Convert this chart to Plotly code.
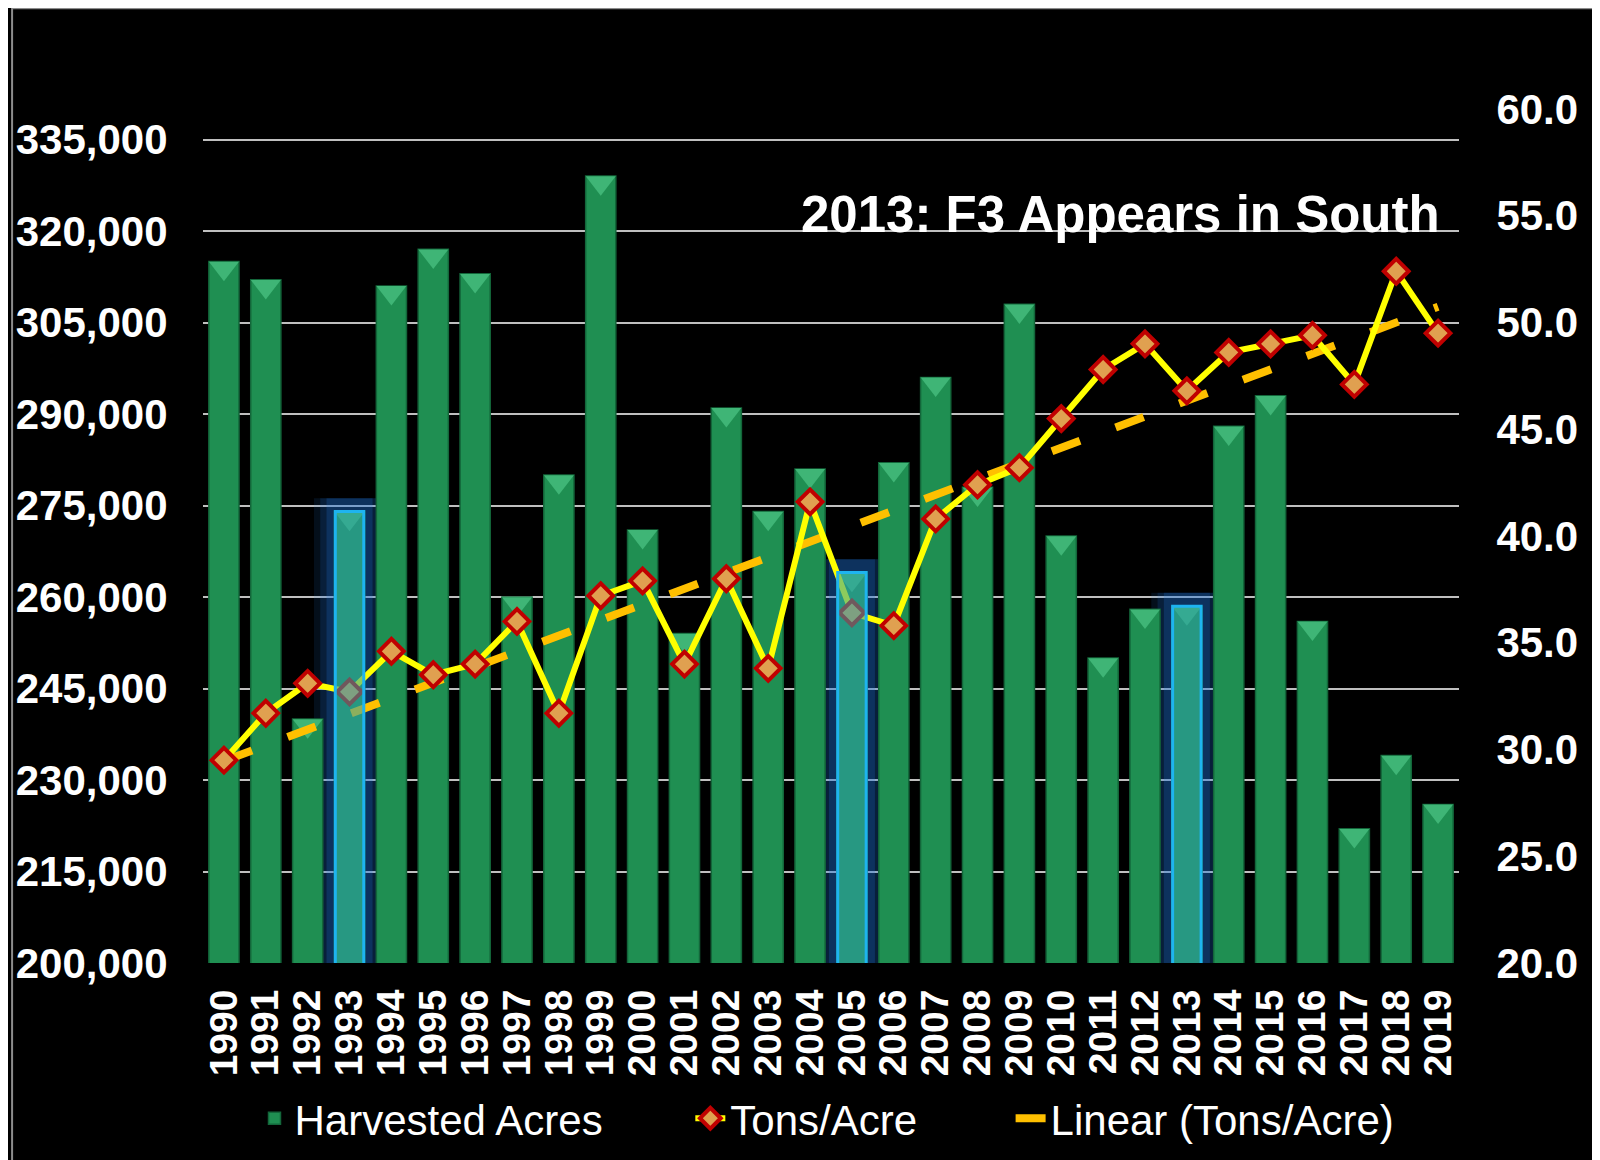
import numpy as np
import plotly.graph_objects as go

# data
years = [str(y) for y in range(1990, 2020)]
harvested_acres = [315000, 312000, 240000, 274000, 311000, 317000, 313000, 260000, 280000, 329000,
                   271000, 254000, 291000, 274000, 281000, 264000, 282000, 296000, 278000, 308000,
                   270000, 250000, 258000, 258500, 288000, 293000, 256000, 222000, 234000, 226000]
tons_per_acre = [29.5, 31.7, 33.1, 32.7, 34.6, 33.5, 34.0, 36.0, 31.7, 37.2,
                 37.9, 34.0, 38.0, 33.8, 41.6, 36.4, 35.8, 40.8, 42.4, 43.2,
                 45.5, 47.8, 49.0, 46.8, 48.6, 49.0, 49.4, 47.1, 52.4, 49.5]
highlight_years = ['1993', '2005', '2013']
left_ticks = list(range(200000, 340000, 15000))
right_ticks = [20, 25, 30, 35, 40, 45, 50, 55, 60]

# excel style linear trendline
idx = np.arange(len(years))
slope, icpt = np.polyfit(idx, tons_per_acre, 1)
trend = slope * idx + icpt

hl_acres = [a for y, a in zip(years, harvested_acres) if y in highlight_years]

font = 'Liberation Sans, Arial, sans-serif'
acres_range = [200000, 340000]
cap_shift = 1100  # drops the bevel caps so they sit inside the bar top

fig = go.Figure()

# soft blue glow behind the highlighted bars
for w, a in [(1.7, 0.12), (1.4, 0.16), (1.1, 0.22)]:
    fig.add_trace(go.Bar(x=highlight_years, y=[v + 2200 for v in hl_acres], width=w,
                         marker=dict(color=f'rgba(30,120,225,{a})', line=dict(width=0)),
                         showlegend=False, hoverinfo='skip'))

fig.add_trace(go.Bar(x=years, y=harvested_acres, name='Harvested Acres', width=0.72,
                     marker=dict(color='#1F8F52', line=dict(color='#13663A', width=1.5)),
                     legend='legend'))

# bevelled tops of the bars
fig.add_trace(go.Scatter(x=years, y=harvested_acres, mode='markers', yaxis='y2',
                         marker=dict(symbol='triangle-down', size=26, color='#3FB576', line=dict(width=0)),
                         showlegend=False, hoverinfo='skip'))

fig.add_trace(go.Scatter(x=years, y=trend, name='Linear (Tons/Acre)', mode='lines',
                         line=dict(color='#FFC000', width=8, dash='30px,38px'),
                         yaxis='y3', legend='legend3'))

fig.add_trace(go.Scatter(x=years, y=tons_per_acre, name='Tons/Acre', mode='lines+markers',
                         line=dict(color='#FFFF00', width=6),
                         marker=dict(symbol='diamond', size=19, color='#E0A050',
                                     line=dict(color='#C00000', width=4)),
                         yaxis='y3', legend='legend2'))

# highlight boxes drawn above the line
fig.add_trace(go.Bar(x=highlight_years, y=hl_acres, width=0.68, yaxis='y4',
                     marker=dict(color='rgba(45,160,170,0.55)', line=dict(color='#1EB4F0', width=3)),
                     showlegend=False, hoverinfo='skip'))

fig.add_annotation(text='<b>2013: F3 Appears in South</b>', xref='paper', yref='paper',
                   x=0.4745, y=0.876, xanchor='left', yanchor='middle', showarrow=False,
                   font=dict(family=font, size=51, color='white'))

# thin grey frame around the black panel
fig.add_shape(type='rect', xref='paper', yref='paper', x0=-0.152, x1=1.2, y0=-0.4, y1=1.118,
              line=dict(color='#8C8C8C', width=2), layer='below')

legend_common = dict(orientation='h', yref='paper', y=-0.182, yanchor='middle', xanchor='left',
                     bgcolor='rgba(0,0,0,0)', font=dict(family=font, size=42, color='white'))

fig.update_layout(
    width=1600, height=1160,
    margin=dict(l=195, r=149, t=101, b=205),
    paper_bgcolor='black', plot_bgcolor='black',
    barmode='overlay',
    font=dict(family=font, color='white'),
    xaxis=dict(type='category', categoryorder='array', categoryarray=years,
               range=[-0.5, 29.5], tickmode='array', tickvals=years,
               tickangle=-90, showgrid=False, showline=False, automargin=False,
               ticks='outside', ticklen=10, tickcolor='rgba(0,0,0,0)',
               tickfont=dict(family=font, size=39, color='white', weight='bold')),
    yaxis=dict(range=acres_range, tickvals=left_ticks, tickformat=',', automargin=False,
               showgrid=True, gridcolor='#BFBFBF', gridwidth=1.5, zeroline=False, showline=False,
               ticks='outside', ticklen=26, tickcolor='rgba(0,0,0,0)',
               tickfont=dict(family=font, size=42, color='white', weight='bold')),
    yaxis2=dict(range=[acres_range[0] + cap_shift, acres_range[1] + cap_shift],
                overlaying='y', visible=False),
    yaxis3=dict(range=[20, 60], tickvals=right_ticks, tickformat='.1f', overlaying='y', side='right',
                showgrid=False, zeroline=False, showline=False, automargin=False,
                ticks='outside', ticklen=28, tickcolor='rgba(0,0,0,0)',
                tickfont=dict(family=font, size=42, color='white', weight='bold')),
    yaxis4=dict(range=acres_range, overlaying='y', visible=False),
    legend=dict(legend_common, x=0.041),
    legend2=dict(legend_common, x=0.388),
    legend3=dict(legend_common, x=0.643),
)

fig.write_html('out.html')
